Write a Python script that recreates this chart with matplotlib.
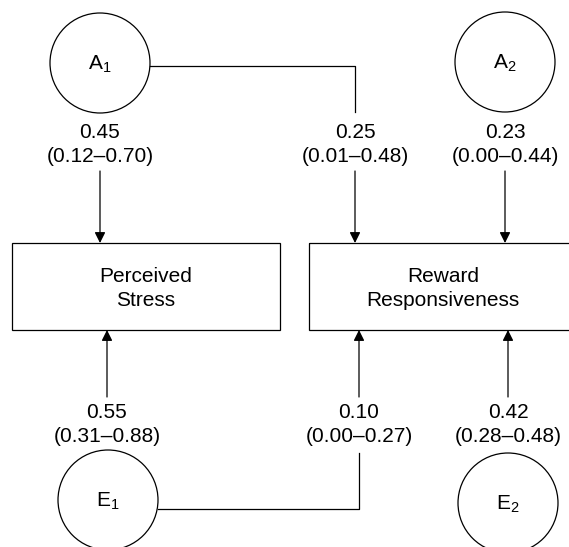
import matplotlib
matplotlib.use('Agg')
import matplotlib.pyplot as plt
from matplotlib.patches import Circle, Rectangle

plt.rcParams['font.family'] = ['Liberation Sans', 'DejaVu Sans']
plt.rcParams['mathtext.fontset'] = 'custom'
plt.rcParams['mathtext.rm'] = 'Liberation Sans'
plt.rcParams['mathtext.it'] = 'Liberation Sans'

# Path estimates with 95% CI
path_names = ['A1->PS', 'A1->RR', 'A2->RR', 'E1->PS', 'E1->RR', 'E2->RR']
estimates = [0.45, 0.25, 0.23, 0.55, 0.10, 0.42]
ci_low = [0.12, 0.01, 0.00, 0.31, 0.00, 0.28]
ci_high = [0.70, 0.48, 0.44, 0.88, 0.27, 0.48]

latent_labels = [r'A$_{\mathrm{1}}$', r'A$_{\mathrm{2}}$', r'E$_{\mathrm{1}}$', r'E$_{\mathrm{2}}$']
observed_labels = ['Perceived\nStress', 'Reward\nResponsiveness']

# layout (pixel coords, y down)
circle_pos = [(100, 63), (505, 62), (108, 500), (508, 503)]
radius = 50
box_pos = [(12, 243, 268, 87), (309, 243, 280, 87)]
box_text_x = [146, 443]
arrow_x = [100, 355, 505, 107, 359, 508]
top_paths = [True, True, True, False, False, False]

fig = plt.figure(figsize=(5.69, 5.47), dpi=100)
ax = fig.add_axes([0, 0, 1, 1])
ax.set_xlim(0, 569)
ax.set_ylim(547, 0)
ax.axis('off')

lw = 0.9
fs = 15

for (cx, cy), lab in zip(circle_pos, latent_labels):
    ax.add_patch(Circle((cx, cy), radius, fill=False, lw=lw, ec='black'))
    ax.text(cx, cy + 1, lab, ha='center', va='center', fontsize=fs)

for (x, y, w, h), tx, lab in zip(box_pos, box_text_x, observed_labels):
    ax.add_patch(Rectangle((x, y), w, h, fill=False, lw=lw, ec='black'))
    ax.text(tx, y + h / 2 + 2, lab, ha='center', va='center',
            fontsize=fs, linespacing=1.3)

# elbow connectors from A1 and E1 to the reward box paths
ax.plot([150, 355, 355], [66, 66, 112], color='black', lw=lw)
ax.plot([158, 359, 359], [509, 509, 453], color='black', lw=lw)

for x, top, est, lo, hi in zip(arrow_x, top_paths, estimates, ci_low, ci_high):
    if top:
        y1, y2, ty = 171, 243, 132
    else:
        y1, y2, ty = 397, 330, 412
    ax.annotate('', xy=(x, y2), xytext=(x, y1),
                arrowprops=dict(arrowstyle='-|>', color='black', lw=lw,
                                mutation_scale=16, shrinkA=0, shrinkB=0))
    ax.text(x, ty, f'{est:.2f}', ha='center', va='center', fontsize=fs)
    ax.text(x, ty + 25, f'({lo:.2f}\u2013{hi:.2f})', ha='center', va='center', fontsize=fs)

fig.savefig('out.png', dpi=100)
